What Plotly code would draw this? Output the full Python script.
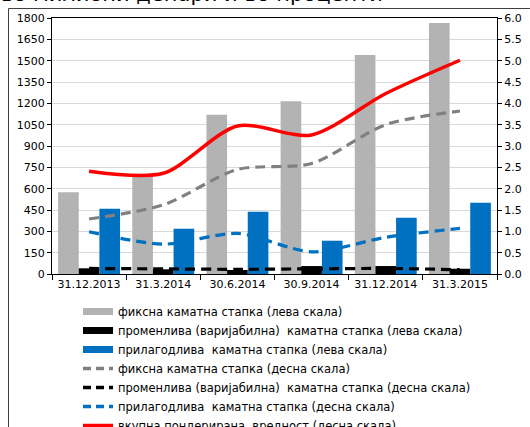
import plotly.graph_objects as go

# Quarter-end dates
dates = ["31.12.2013", "31.3.2014", "30.6.2014", "30.9.2014", "31.12.2014", "31.3.2015"]

# Amounts, millions of denars (left scale)
fixed_amt = [575, 698, 1120, 1215, 1540, 1765]
variable_amt = [40, 33, 28, 56, 56, 37]
adjustable_amt = [458, 318, 438, 234, 396, 501]

# Interest rates, percent (right scale)
fixed_rate = [1.29, 1.62, 2.45, 2.59, 3.50, 3.82]
variable_rate = [0.13, 0.12, 0.11, 0.12, 0.13, 0.10]
adjustable_rate = [0.99, 0.70, 0.95, 0.52, 0.86, 1.07]
weighted_rate = [2.41, 2.36, 3.47, 3.26, 4.23, 5.01]

left_ticks = list(range(0, 1801, 150))
right_ticks = [i / 2 for i in range(13)]

GREY = "#b3b3b3"
BLACK = "#000000"
BLUE = "#0070c0"
DGREY = "#808080"
RED = "#ff0000"
FONT = "DejaVu Sans"

# plot-area pixel geometry
W, H = 530, 427
L, R, T, B = 52, 33, 18, 153
PW, PH = W - L - R, H - T - B


def px(x):
    return (x - L) / PW


def py(y):
    return (H - B - y) / PH


fig = go.Figure()

for vals, col in [(fixed_amt, GREY), (variable_amt, BLACK), (adjustable_amt, BLUE)]:
    fig.add_trace(go.Bar(x=dates, y=vals, marker=dict(color=col, line=dict(width=0)),
                         showlegend=False, yaxis="y"))

line_specs = [
    (fixed_rate, DGREY, "10px,6px", 3.2),
    (variable_rate, BLACK, "10px,6px", 3.2),
    (adjustable_rate, BLUE, "10px,6px", 3.2),
    (weighted_rate, RED, "solid", 3.5),
]
for vals, col, dash, w in line_specs:
    fig.add_trace(go.Scatter(x=dates, y=vals, mode="lines", yaxis="y2",
                             line=dict(color=col, dash=dash, width=w, shape="spline", smoothing=0.8),
                             showlegend=False))

# legend entries
legend_items = [
    ("фиксна каматна стапка (лева скала)", GREY, "solid", 7),
    ("променлива (варијабилна)\u00a0 каматна стапка (лева скала)", BLACK, "solid", 7),
    ("прилагодлива\u00a0 каматна стапка (лева скала)", BLUE, "solid", 7),
    ("фиксна каматна стапка (десна скала)", DGREY, "8px,5px", 3.5),
    ("променлива (варијабилна)\u00a0 каматна стапка (десна скала)", BLACK, "8px,5px", 3.5),
    ("прилагодлива\u00a0 каматна стапка (десна скала)", BLUE, "8px,5px", 3.5),
    ("вкупна пондерирана\u00a0 вредност (десна скала)", RED, "solid", 3.5),
]
for name, col, dash, w in legend_items:
    fig.add_trace(go.Scatter(x=[None], y=[None], mode="lines", name=name,
                             line=dict(color=col, dash=dash, width=w)))

fig.update_layout(
    width=W, height=H,
    margin=dict(l=L, r=R, t=T, b=B, autoexpand=False),
    paper_bgcolor="white", plot_bgcolor="white",
    font=dict(family=FONT, size=11, color="black"),
    barmode="group", bargap=0.165, bargroupgap=0,
    xaxis=dict(type="category", showline=True, linecolor="black", linewidth=1, mirror=True,
               ticks="outside", tickson="boundaries", ticklen=5, tickcolor="black",
               showgrid=False, tickfont=dict(size=11)),
    yaxis=dict(range=[0, 1800], tickvals=left_ticks, showline=True, linecolor="black",
               ticks="outside", ticklen=4, tickcolor="black", gridcolor="#d9d9d9",
               gridwidth=1, zeroline=False, tickfont=dict(size=11)),
    yaxis2=dict(range=[0, 6], tickvals=right_ticks, tickformat=".1f", overlaying="y",
                side="right", showline=True, linecolor="black", ticks="outside",
                ticklen=4, tickcolor="black", showgrid=False, zeroline=False,
                tickfont=dict(size=11)),
    legend=dict(x=px(78), y=py(297), xanchor="left", yanchor="top",
                bgcolor="rgba(0,0,0,0)", font=dict(size=11.5), traceorder="normal",
                tracegroupgap=0),
    shapes=[dict(type="rect", xref="paper", yref="paper",
                 x0=px(8.5), x1=px(545), y0=py(8.5), y1=py(445),
                 line=dict(color="#404040", width=1), layer="below")],
    annotations=[dict(text="во милиони денари и во проценти", xref="paper", yref="paper",
                      x=px(-1), y=py(8), xanchor="left", yanchor="bottom",
                      showarrow=False, font=dict(size=21, family=FONT))],
)

fig.write_html("out.html")
